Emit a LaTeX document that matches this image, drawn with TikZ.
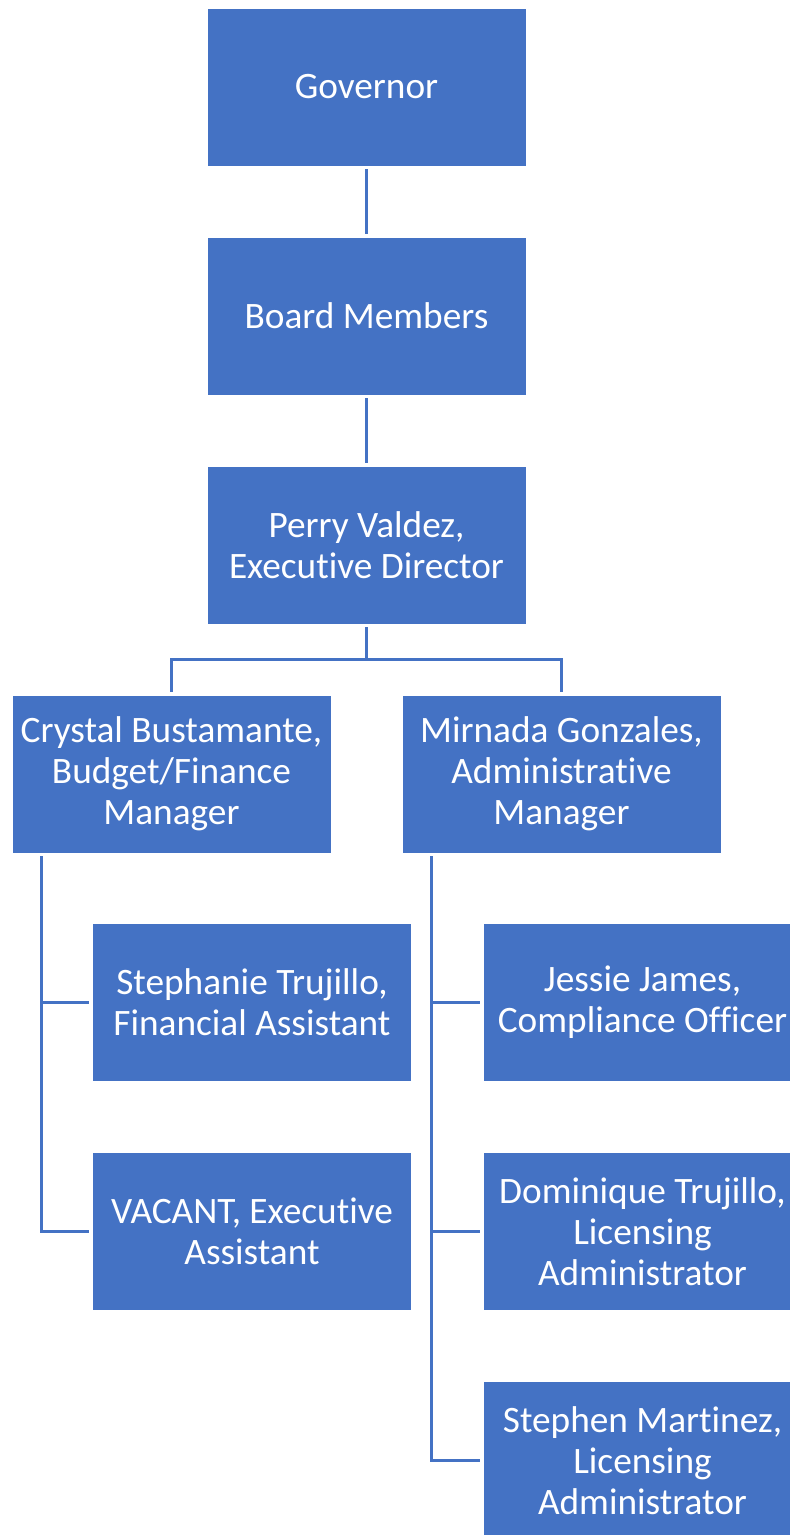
\documentclass[tikz,border=0pt]{standalone}
\usepackage{fontspec}
\setmainfont{Carlito}[RawFeature={-liga;-clig;-calt;-dlig}]
\usetikzlibrary{positioning}
\definecolor{boxblue}{HTML}{4472C4}

\begin{document}
\begin{tikzpicture}[x=1pt,y=-1pt,node distance=229pt]
\tikzstyle{person} = [rectangle, fill=boxblue, draw=white, line width=0.75pt, minimum width=319pt, minimum height=158pt, text=white, align=center, font=\fontsize{37.3}{41}\selectfont]
\tikzstyle{link} = [draw=boxblue, line width=2.6pt, shorten <=3pt, shorten >=3pt]

\clip (0,0) rectangle (790,1535);

\node (gov) [person] at (366.5,87) {Governor};
\node (board) [person, below of=gov] {Board Members};
\node (perry) [person, below of=board] {Perry Valdez,\\Executive Director};

\node (crystal) [person] at (171.5,774) {Crystal Bustamante,\\Budget/Finance\\Manager};
\node (mirnada) [person, right of=crystal, node distance=390pt] {Mirnada Gonzales,\\Administrative\\Manager};

\node (stephanie) [person] at (252,1002.5) {Stephanie Trujillo,\\Financial Assistant};
\node (vacant) [person, below of=stephanie] {VACANT, Executive\\Assistant};
\node (jessie) [person, right of=stephanie, node distance=390.5pt] {Jessie James,\\Compliance Officer};
\node (dominique) [person, below of=jessie] {Dominique Trujillo,\\Licensing\\Administrator};
\node (stephen) [person, below of=dominique] {Stephen Martinez,\\Licensing\\Administrator};

\draw [link] (gov) -- (board);
\draw [link] (board) -- (perry);
\draw [link] (perry.south) -- ++(0,35) -| (crystal.north);
\draw [link] (perry.south) -- ++(0,35) -| (mirnada.north);

\draw [link] ([xshift=30pt]crystal.south west) |- (stephanie.west);
\draw [link] ([xshift=30pt]crystal.south west) |- (vacant.west);

\draw [link] ([xshift=30pt]mirnada.south west) |- (jessie.west);
\draw [link] ([xshift=30pt]mirnada.south west) |- (dominique.west);
\draw [link] ([xshift=30pt]mirnada.south west) |- (stephen.west);
\end{tikzpicture}
\end{document}
